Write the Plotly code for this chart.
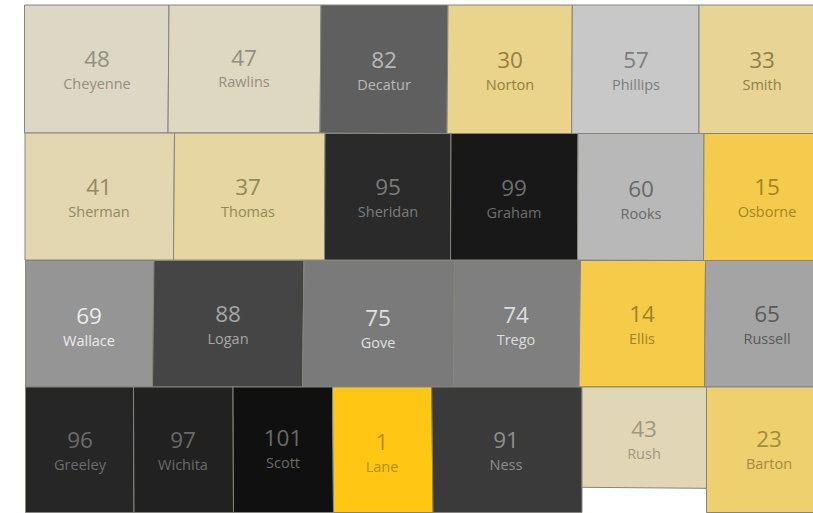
import plotly.graph_objects as go
from plotly.colors import sample_colorscale

condados = ["Cheyenne", "Rawlins", "Decatur", "Norton", "Phillips", "Smith",
            "Sherman", "Thomas", "Sheridan", "Graham", "Rooks", "Osborne",
            "Wallace", "Logan", "Gove", "Trego", "Ellis", "Russell",
            "Greeley", "Wichita", "Scott", "Lane", "Ness", "Rush", "Barton"]
rangos = [48, 47, 82, 30, 57, 33,
          41, 37, 95, 99, 60, 15,
          69, 88, 75, 74, 14, 65,
          96, 97, 101, 1, 91, 43, 23]

# Contorno de cada condado en unidades del mapa: sup-izq, sup-der, inf-der, inf-izq
contorno_x = [[24.5, 169, 168, 24.5], [169, 321, 320, 168], [321, 448, 447, 320],
              [448, 572.3, 571.7, 447], [572.3, 699, 699, 571.7], [699, 814, 814, 699],
              [25, 174.5, 173.5, 25], [174.5, 325, 324.5, 173.5], [325, 451, 450.5, 324.5],
              [451, 578, 577.5, 450.5], [578, 704, 703.5, 577.5], [704, 814, 814, 703.5],
              [25.5, 154, 152.5, 25.5], [154, 304, 302.5, 152.5], [304, 454.5, 453.5, 302.5],
              [454.5, 580.5, 579, 453.5], [580.5, 705.5, 704.5, 579], [705.5, 814, 814, 704.5],
              [25.5, 133.5, 134, 25.5], [133.5, 233, 233.5, 134], [233, 332.5, 333.5, 233.5],
              [332.5, 431.7, 433, 333.5], [431.7, 582, 582, 433], [582, 706.5, 706.5, 582],
              [706.5, 814, 814, 706.5]]
contorno_y = [[5, 5, 133, 133], [5, 5, 133, 133], [5, 5, 133.5, 133],
              [5, 5, 133.5, 133.5], [5, 5, 133.5, 133.5], [5, 5, 133.5, 133.5],
              [133, 133, 260, 260], [133, 133, 260, 260], [133.5, 133.5, 260, 260],
              [133.5, 133.5, 260, 260], [133.5, 133.5, 260.5, 260], [133.5, 133.5, 260.5, 260.5],
              [260.5, 260.5, 387, 387], [260.5, 260.5, 387, 387], [260.5, 260.5, 387, 387],
              [260.5, 260.5, 387, 387], [260.5, 260.5, 387, 387], [260.5, 260.5, 387, 387],
              [387, 387, 512.5, 512.5], [387, 387, 512.5, 512.5], [387, 387, 512.5, 512.5],
              [387, 387, 512.5, 512.5], [387, 387, 512.5, 512.5], [387, 387, 488.3, 487.3],
              [387, 387, 512.5, 512.5]]

# Posicion de las etiquetas de cada condado
etiqueta_x = [97, 244, 384, 510, 636, 762,
              99, 248, 388, 514, 641, 767,
              89, 228, 378, 516, 642, 767,
              80, 183, 283, 382, 506, 644, 769]
numero_y = [61, 60, 62, 62, 62, 62,
            189, 189, 189, 190, 191, 189,
            318, 316, 320, 317, 316, 316,
            442, 442, 440, 444, 442, 431, 441]
nombre_y = [85, 83, 86, 86, 86, 86,
            213, 213, 213, 214, 215, 213,
            342, 340, 344, 341, 340, 340,
            466, 466, 464, 468, 466, 455, 465]

color_texto = ["#958F7E", "#968F7D", "#B8B8B8", "#94803F", "#7D7D7D", "#8F8048",
               "#928A63", "#938957", "#7C7C7C", "#6E6E6E", "#696969", "#A5841F",
               "#ECECEC", "#A5A5A5", "#E0E0E0", "#DDDDDD", "#A4821F", "#5A5A5A",
               "#6C6C6C", "#6A6A6A", "#6A6A6A", "#B5900F", "#8E8E8E", "#A09880", "#A38D38"]

# Escala de color segun el rango (1 = dorado, 101 = negro)
rango_max = 101
tramos = [(1, "#FFC614"), (15, "#F5CB4E"), (23, "#EED06E"), (30, "#EAD38A"), (37, "#E5D6A2"),
          (41, "#E2D7B0"), (48, "#DDD7C5"), (57, "#C8C8C8"), (60, "#B8B8B8"), (65, "#A4A4A4"),
          (69, "#959595"), (75, "#7A7A7A"), (82, "#5F5F5F"), (88, "#454545"), (91, "#3A3A3A"),
          (95, "#2A2A2A"), (99, "#181818"), (101, "#101010")]
escala = [[(r - 1) / (rango_max - 1), c] for r, c in tramos]


def color_de_rango(rango):
    return sample_colorscale(escala, [(rango - 1) / (rango_max - 1)], colortype="rgb")[0]


fig = go.Figure()

# Un poligono por condado
for i, nombre in enumerate(condados):
    fig.add_trace(go.Scatter(x=contorno_x[i] + contorno_x[i][:1], y=contorno_y[i] + contorno_y[i][:1],
                             mode="lines", fill="toself", fillcolor=color_de_rango(rangos[i]),
                             line=dict(color="#85857C", width=1), hoverinfo="skip", name=nombre))

# Numero y nombre
fig.add_trace(go.Scatter(x=etiqueta_x, y=numero_y, mode="text", text=[str(r) for r in rangos],
                         textposition="middle center", hoverinfo="skip",
                         textfont=dict(family="Open Sans", size=22.5, color=color_texto)))
fig.add_trace(go.Scatter(x=etiqueta_x, y=nombre_y, mode="text", text=condados,
                         textposition="middle center", hoverinfo="skip",
                         textfont=dict(family="Open Sans", size=14.5, weight=500, color=color_texto)))

fig.update_layout(width=813, height=513, margin=dict(l=0, r=0, t=0, b=0),
                  paper_bgcolor="white", plot_bgcolor="white", showlegend=False,
                  xaxis=dict(range=[0, 813], visible=False),
                  yaxis=dict(range=[513, 0], visible=False))

fig.write_html("out.html", config=dict(displayModeBar=False),
               post_script="document.body.style.margin='0';")
